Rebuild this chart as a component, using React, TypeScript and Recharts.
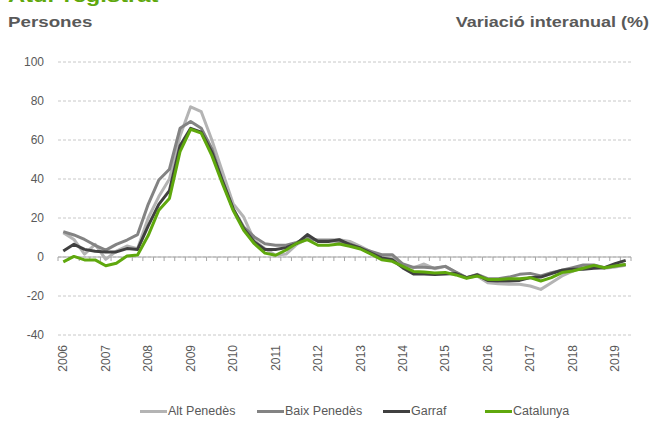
import { LineChart, Line, XAxis, YAxis, CartesianGrid, ReferenceLine } from "recharts";

const quarters = [
  "2006T1", "2006T2", "2006T3", "2006T4", "2007T1", "2007T2", "2007T3", "2007T4",
  "2008T1", "2008T2", "2008T3", "2008T4", "2009T1", "2009T2", "2009T3", "2009T4",
  "2010T1", "2010T2", "2010T3", "2010T4", "2011T1", "2011T2", "2011T3", "2011T4",
  "2012T1", "2012T2", "2012T3", "2012T4", "2013T1", "2013T2", "2013T3", "2013T4",
  "2014T1", "2014T2", "2014T3", "2014T4", "2015T1", "2015T2", "2015T3", "2015T4",
  "2016T1", "2016T2", "2016T3", "2016T4", "2017T1", "2017T2", "2017T3", "2017T4",
  "2018T1", "2018T2", "2018T3", "2018T4", "2019T1", "2019T2",
];

const altPenedes = [
  12.5, 9, 1.5, 6.5, -1.2, 3, 5.6, 4.3, 20, 31, 40, 62, 77, 74.5,
  60, 43.6, 27.4, 20.5, 8.5, 4.3, 0.9, 1.5, 6.5, 9.4, 8.9, 8.9, 8.9, 8,
  5.5, 2.6, 0.3, -0.5, -3.9, -5.6, -3.6, -6, -4.8, -8, -10.6, -9.7, -13.2, -13.7,
  -14, -14, -14.9, -16.6, -13.2, -9.7, -7.2, -5.5, -4.6, -5.8, -5.1, -4.3,
];

const baixPenedes = [
  13, 11.3, 9, 6, 3.5, 6.5, 8.7, 11.5, 27, 39.5, 45, 66, 69.5, 66,
  55.6, 39, 24.8, 15.4, 10.3, 6.8, 6, 6, 7.5, 9.7, 8.4, 8.4, 8, 6.7,
  4.6, 2.9, 1.2, 1.2, -3.6, -5.3, -5.3, -5.6, -4.8, -7.7, -10.6, -8.9, -11.1, -11.1,
  -10.3, -8.9, -8.4, -9.7, -8, -6.8, -5.5, -4.1, -4.1, -5.5, -4.6, -3.8,
];

const garraf = [
  3.1, 6.5, 3.9, 2.9, 2.6, 2.6, 4.3, 3.9, 16, 27, 34, 57, 66, 64,
  53.8, 39, 24.8, 14.5, 7.7, 3.8, 3.8, 4.8, 7, 11.5, 8, 8, 8.9, 6.3,
  4.6, 2, -0.5, -1.4, -5.6, -8.7, -8.7, -9, -8.7, -8.5, -10.6, -9.2, -12, -12.3,
  -12.3, -12, -10.6, -10.3, -8.5, -6.8, -6.3, -6.3, -5.8, -5.5, -3.4, -1.7,
];

const catalunya = [
  -2.5, 0.3, -1.5, -1.5, -4.5, -3.2, 0.5, 1, 11, 24, 30, 54, 65.5, 63.5,
  52, 37.6, 24, 13.7, 6.8, 2, 0.9, 3.6, 7, 8.9, 6, 6, 6.7, 5.5,
  4.1, 1.5, -1.4, -2.2, -4.8, -7.4, -7.7, -8.2, -7.9, -9.2, -10.9, -9.7, -11.5, -11.5,
  -11.1, -11.1, -10.6, -12.3, -10.6, -8, -7.2, -5.8, -4.3, -5.5, -4.6, -3.8,
];

const yearTicks = [
  "2006", "2007", "2008", "2009", "2010", "2011", "2012",
  "2013", "2014", "2015", "2016", "2017", "2018", "2019",
];
const yTicks = [-40, -20, 0, 20, 40, 60, 80, 100];

const series = [
  { key: "alt", name: "Alt Penedès", color: "#b4b4b4", values: altPenedes },
  { key: "baix", name: "Baix Penedès", color: "#838383", values: baixPenedes },
  { key: "garraf", name: "Garraf", color: "#404040", values: garraf },
  { key: "cat", name: "Catalunya", color: "#5fa80d", values: catalunya },
];

const data = quarters.map((q, i) => {
  const row: Record<string, number | string> = { idx: i, q };
  series.forEach(s => { row[s.key] = s.values[i]; });
  return row;
});

const textGray = "#595959";
const font = "'Liberation Sans', Arial, sans-serif";

function YearTick({ x, y, payload }: any) {
  return (
    <text x={x} y={y} transform={`rotate(-90, ${x}, ${y})`} textAnchor="end" dy="0.35em"
      fill={textGray} fontSize={12}>
      {yearTicks[payload.value / 4]}
    </text>
  );
}

// zero line with a small tick between every quarter
function ZeroAxis(props: any) {
  const { x1, x2, y1 } = props;
  const n = quarters.length;
  const step = (x2 - x1) / n;
  const marks = Array.from({ length: n + 1 }, (_, k) => x1 + k * step);
  return (
    <g>
      <line x1={x1} x2={x2} y1={y1} y2={y1} stroke="#a6a6a6" strokeWidth={1} />
      {marks.map((tx, k) => (
        <line key={k} x1={tx} x2={tx} y1={y1} y2={y1 + 4} stroke="#a6a6a6" strokeWidth={1} />
      ))}
    </g>
  );
}

const legendLeft = [140, 257, 383, 485];

export default function App() {
  return (
    <div style={{ position: "absolute", left: 0, top: 0, width: 653, height: 428, fontFamily: font, overflow: "hidden" }}>
      <div style={{
        position: "absolute", left: 8, top: -14, fontSize: 19, lineHeight: "19px", fontWeight: 700,
        color: "#5fa80d", transform: "scaleX(1.25)", transformOrigin: "left", whiteSpace: "nowrap",
      }}>
        Atur registrat
      </div>
      <div style={{
        position: "absolute", left: 8, top: 14, fontSize: 15, lineHeight: "15px", fontWeight: 700,
        color: textGray, transform: "scaleX(1.25)", transformOrigin: "left", whiteSpace: "nowrap",
      }}>
        Persones
      </div>
      <div style={{
        position: "absolute", right: 4, top: 14, fontSize: 15, lineHeight: "15px", fontWeight: 700,
        color: textGray, transform: "scaleX(1.2)", transformOrigin: "right", whiteSpace: "nowrap",
      }}>
        Variació interanual (%)
      </div>

      <LineChart width={653} height={428} data={data} margin={{ top: 62, right: 22, left: 0, bottom: 0 }}>
        <CartesianGrid vertical={false} stroke="#c8c8c8" strokeDasharray="3 2" />
        <XAxis dataKey="idx" type="number" domain={[-0.5, quarters.length - 0.5]}
          ticks={yearTicks.map((_, k) => k * 4)} interval={0} height={93}
          axisLine={false} tickLine={false} tickSize={0} tickMargin={10} tick={<YearTick />} />
        <YAxis domain={[-40, 100]} ticks={yTicks} interval={0} width={58}
          axisLine={false} tickLine={false} tickSize={0} tickMargin={14}
          tick={{ fill: textGray, fontSize: 12 }} />
        <ReferenceLine y={0} shape={<ZeroAxis />} />
        {series.map(s => (
          <Line key={s.key} dataKey={s.key} name={s.name} stroke={s.color} strokeWidth={3}
            dot={false} activeDot={false} isAnimationActive={false} strokeLinejoin="round" />
        ))}
      </LineChart>

      {series.map((s, k) => (
        <div key={s.key} style={{
          position: "absolute", left: legendLeft[k], top: 404, height: 14,
          display: "flex", alignItems: "center", whiteSpace: "nowrap",
        }}>
          <span style={{ display: "inline-block", width: 27, height: 3, background: s.color, marginRight: 1 }} />
          <span style={{ fontSize: 12.5, color: textGray }}>{s.name}</span>
        </div>
      ))}
    </div>
  );
}
